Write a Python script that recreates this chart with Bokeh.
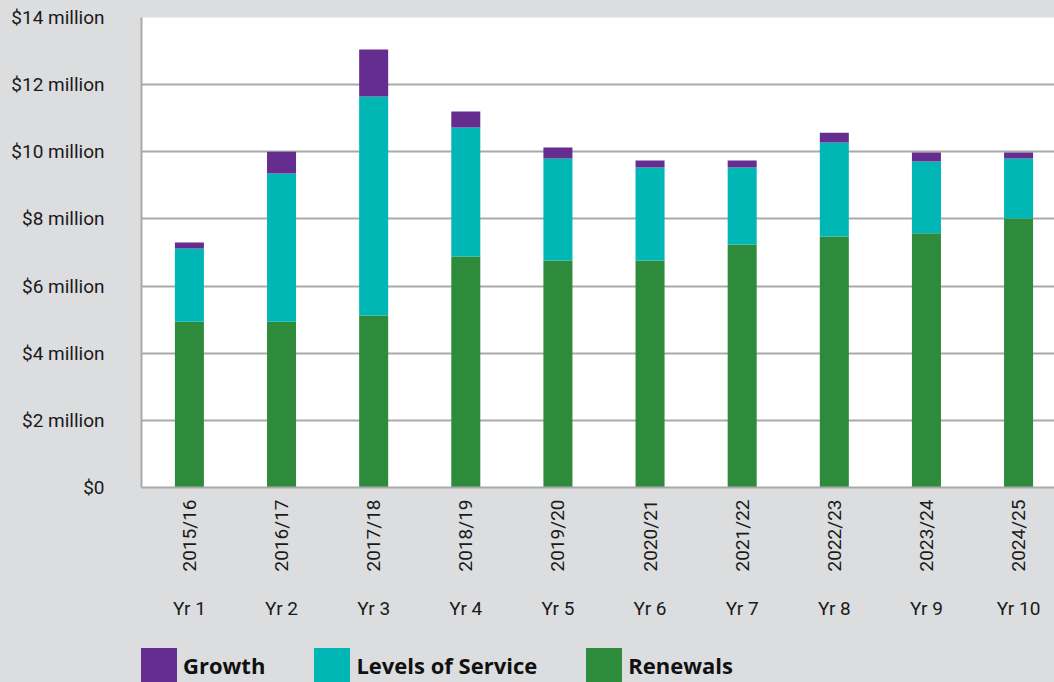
import math
from bokeh.plotting import figure
from bokeh.layouts import column
from bokeh.models import (ColumnDataSource, Range1d, FixedTicker, LinearAxis,
                          Legend, LegendItem, GlobalInlineStyleSheet)
from bokeh.embed import file_html
from bokeh.resources import INLINE

years = ["2015/16", "2016/17", "2017/18", "2018/19", "2019/20",
         "2020/21", "2021/22", "2022/23", "2023/24", "2024/25"]
yr_labels = ["Yr 1", "Yr 2", "Yr 3", "Yr 4", "Yr 5",
             "Yr 6", "Yr 7", "Yr 8", "Yr 9", "Yr 10"]
renewals = [4.94, 4.94, 5.12, 6.88, 6.76, 6.76, 7.24, 7.48, 7.57, 8.01]
levels_of_service = [2.18, 4.41, 6.53, 3.84, 3.04, 2.77, 2.29, 2.80, 2.14, 1.79]
growth = [0.18, 0.65, 1.40, 0.48, 0.33, 0.21, 0.21, 0.29, 0.27, 0.18]
series_names = ["Renewals", "Levels of Service", "Growth"]
y_ticks = [0, 2, 4, 6, 8, 10, 12, 14]
y_tick_labels = ["$0", "$2 million", "$4 million", "$6 million", "$8 million",
                 "$10 million", "$12 million", "$14 million"]

BG = "#dcdddf"
GREEN = "#2e8b3b"
TEAL = "#00b7b5"
PURPLE = "#662d91"
COLORS = [GREEN, TEAL, PURPLE]
GRID = "#a9a9a9"
FONT = "Roboto"

xs = list(range(len(years)))
src = ColumnDataSource(dict(x=xs, renewals=renewals, los=levels_of_service, growth=growth))
stack_keys = ["renewals", "los", "growth"]

p = figure(width=1054, height=640, output_backend="svg", toolbar_location=None,
           x_range=Range1d(-0.52, 9.39), y_range=Range1d(0, 14),
           x_axis_location=None, y_axis_location=None,
           min_border_left=141, min_border_right=0, min_border_top=17,
           min_border_bottom=153)
p.border_fill_color = BG
p.background_fill_color = "white"
p.outline_line_color = None
p.stylesheets = [GlobalInlineStyleSheet(css=f"body {{ background: {BG}; }}")]

rs = p.vbar_stack(stack_keys, x="x", width=0.315, source=src,
                  color=COLORS, line_color=None)

def clean(ax):
    ax.major_tick_out = 0
    ax.major_tick_in = 0
    ax.minor_tick_out = 0
    ax.minor_tick_in = 0
    ax.major_label_text_font = FONT
    ax.major_label_text_font_size = "19px"
    ax.major_label_text_color = "#1a1a1a"

# Y axis
yax = LinearAxis(ticker=FixedTicker(ticks=y_ticks))
yax.major_label_overrides = {t: l for t, l in zip(y_ticks, y_tick_labels)}
clean(yax)
yax.axis_line_color = GRID
yax.axis_line_width = 2
yax.major_label_standoff = 37
p.add_layout(yax, "left")

# X axis with years (vertical, reading upward)
xax = LinearAxis(ticker=FixedTicker(ticks=xs))
xax.major_label_overrides = {i: y for i, y in zip(xs, years)}
xax.major_label_orientation = math.pi / 2
clean(xax)
xax.axis_line_color = GRID
xax.axis_line_width = 2
xax.major_label_standoff = 12
p.add_layout(xax, "below")

# X axis with Yr labels
xax2 = LinearAxis(ticker=FixedTicker(ticks=xs))
xax2.major_label_overrides = {i: y for i, y in zip(xs, yr_labels)}
clean(xax2)
xax2.axis_line_color = None
xax2.major_label_standoff = 22
p.add_layout(xax2, "below")

p.ygrid.ticker = FixedTicker(ticks=y_ticks)
p.ygrid.grid_line_color = GRID
p.ygrid.grid_line_width = 2
p.xgrid.grid_line_color = None

# Legend strip (separate figure; its bars lie outside its ranges so only the legend shows)
lf = figure(width=1054, height=42, output_backend="svg", toolbar_location=None,
            x_range=Range1d(100, 110), y_range=Range1d(100, 101),
            x_axis_location=None, y_axis_location=None,
            min_border_left=0, min_border_right=0, min_border_top=0,
            min_border_bottom=0)
lf.border_fill_color = BG
lf.background_fill_color = BG
lf.outline_line_color = None
lf.xgrid.grid_line_color = None
lf.ygrid.grid_line_color = None
lrs = lf.vbar_stack(stack_keys, x="x", width=0.315, source=src,
                    color=COLORS, line_color=None)

legend = Legend(items=[LegendItem(label=series_names[2], renderers=[lrs[2]]),
                       LegendItem(label=series_names[1], renderers=[lrs[1]]),
                       LegendItem(label=series_names[0], renderers=[lrs[0]])],
                orientation="horizontal", location=(-5, -5.5),
                glyph_width=45, glyph_height=45, label_standoff=2, spacing=44,
                padding=0, margin=0, border_line_color=None,
                background_fill_alpha=0,
                label_text_font="Open Sans", label_text_font_style="bold",
                label_text_font_size="22px", label_text_color="#111111")
lf.add_layout(legend, "center")

layout = column(p, lf, spacing=0)
open("out.html", "w").write(file_html(layout, INLINE))
